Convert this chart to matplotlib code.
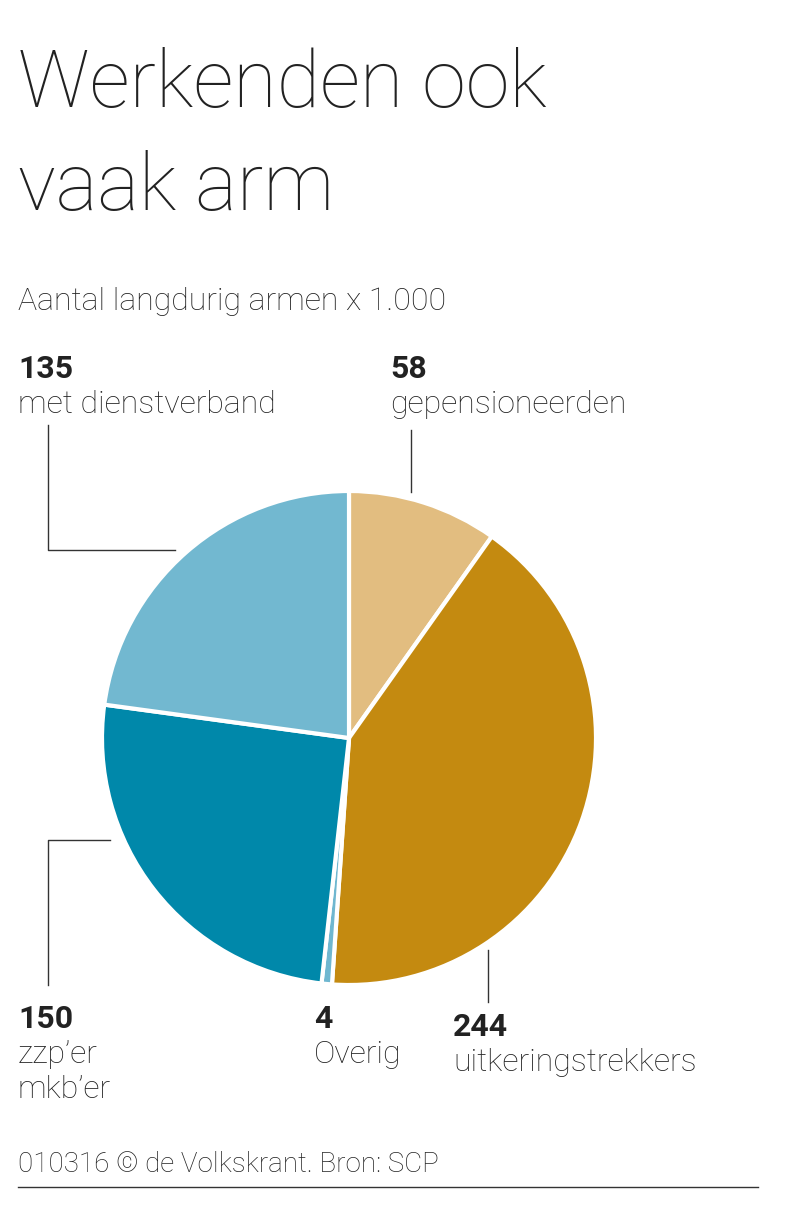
import matplotlib
matplotlib.use("Agg")
import matplotlib.pyplot as plt
from matplotlib.lines import Line2D

categories = ["gepensioneerden", "uitkeringstrekkers", "Overig", "zzp'er\nmkb'er", "met dienstverband"]
values = [58, 244, 4, 150, 135]
colors = ["#e2bd80", "#c48a10", "#6fb7d0", "#0088aa", "#72b8d0"]

W, H = 800, 1208
fig = plt.figure(figsize=(8, 12.08), dpi=100)
fig.patch.set_facecolor("white")

def fx(x): return x / W
def fy(y): return 1 - y / H

FONT = "Roboto"
cx, cy, r = 349, 738, 247
ax = fig.add_axes([fx(cx - r), fy(cy + r), 2 * r / W, 2 * r / H])
ax.pie(values, colors=colors, startangle=90, counterclock=False,
       wedgeprops=dict(edgecolor="white", linewidth=3))
ax.set_xlim(-1, 1)
ax.set_ylim(-1, 1)
ax.set_aspect("equal")
ax.axis("off")

def t(x, y, s, size, weight="normal"):
    fig.text(fx(x), fy(y), s, fontsize=size, fontfamily=FONT, weight=weight,
             color="#222222", va="baseline", ha="left")

t(18, 107, "Werkenden ook", 57, "light")
t(18, 210, "vaak arm", 57, "light")
t(18, 310, "Aantal langdurig armen x 1.000", 23, "light")

t(18, 378, "135", 23, "bold"); t(18, 413, "met dienstverband", 23, "light")
t(390, 378, "58", 23, "bold"); t(390, 413, "gepensioneerden", 23, "light")
t(18, 1028, "150", 23, "bold"); t(18, 1063, "zzp\u2019er", 23, "light"); t(18, 1098, "mkb\u2019er", 23, "light")
t(314, 1028, "4", 23, "bold"); t(314, 1063, "Overig", 23, "light")
t(453, 1036, "244", 23, "bold"); t(453, 1071, "uitkeringstrekkers", 23, "light")
t(18, 1172, "010316 \u00a9 de Volkskrant. Bron: SCP", 20, "light")

def line(xs, ys):
    fig.add_artist(Line2D([fx(x) for x in xs], [fy(y) for y in ys], color="#333333", lw=1))

line([411, 411], [430, 492])
line([48, 48, 175], [425, 550, 550])
line([48, 48, 110], [985, 840, 840])
line([488, 488], [950, 1002])
line([18, 758], [1187, 1187])

fig.savefig("out.png", dpi=100)
